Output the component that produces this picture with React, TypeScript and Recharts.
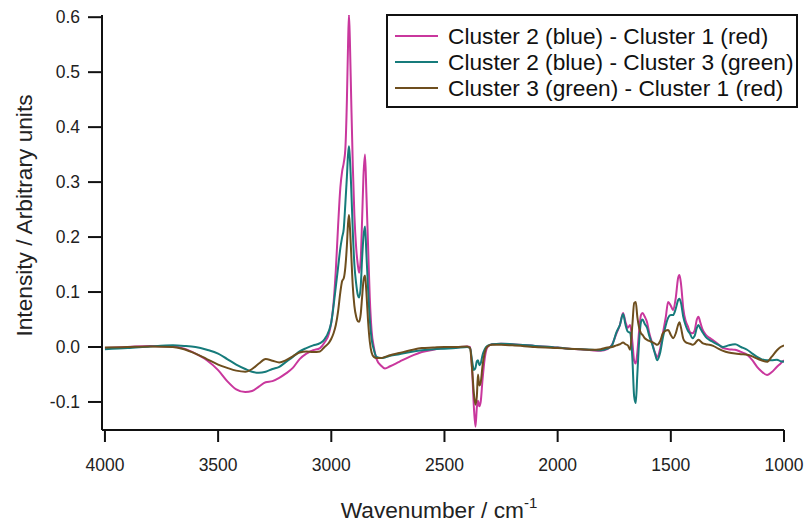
import React from 'react';
import { LineChart, Line, XAxis, YAxis, Label } from 'recharts';

document.body.style.margin = '0';

// wavenumber grid (cm-1)
const wavenumbers = [
  4000, 3900, 3800, 3700, 3650, 3600, 3550, 3500, 3460, 3420, 3380, 3350, 3320, 3290, 3260, 3230, 3200, 3170,
  3140, 3110, 3080, 3050, 3030, 3010, 3000, 2990, 2980, 2970, 2960, 2952, 2945, 2938, 2931, 2926, 2922, 2918,
  2912, 2905, 2898, 2890, 2883, 2877, 2870, 2864, 2858, 2851, 2845, 2838, 2830, 2822, 2812, 2800, 2780, 2763,
  2740, 2700, 2650, 2600, 2550, 2500, 2450, 2400, 2387, 2378, 2370, 2363, 2357, 2352, 2346, 2340, 2332, 2322,
  2310, 2290, 2250, 2200, 2100, 2000, 1950, 1900, 1850, 1810, 1780, 1760, 1740, 1725, 1711, 1700, 1690, 1680,
  1670, 1662, 1655, 1648, 1640, 1632, 1625, 1615, 1605, 1595, 1583, 1570, 1560, 1548, 1535, 1522, 1512, 1500,
  1490, 1478, 1468, 1462, 1455, 1445, 1435, 1425, 1415, 1405, 1395, 1385, 1378, 1370, 1360, 1345, 1330, 1313,
  1290, 1269, 1245, 1216, 1190, 1163, 1140, 1119, 1100, 1075, 1055, 1031, 1015, 1000,
];

// Cluster 2 (blue) - Cluster 1 (red)
const diff21 = [
  -0.002, 0.0, 0.002, 0.001, -0.003, -0.012, -0.024, -0.042, -0.062, -0.077, -0.082, -0.08, -0.072, -0.064, -0.062, -0.056, -0.048, -0.038,
  -0.022, -0.012, -0.006, -0.002, 0.008, 0.025, 0.045, 0.08, 0.14, 0.22, 0.29, 0.32, 0.335, 0.36, 0.45, 0.55, 0.605, 0.56,
  0.45, 0.33, 0.24, 0.18, 0.15, 0.135, 0.16, 0.23, 0.31, 0.35, 0.28, 0.19, 0.09, 0.03, 0.0, -0.022, -0.034, -0.039,
  -0.035, -0.027, -0.017, -0.009, -0.005, -0.002, -0.001, 0.001, 0.0, -0.04, -0.11, -0.145, -0.11, -0.098, -0.108, -0.1, -0.06, -0.02,
  0.0, 0.005, 0.006, 0.005, 0.002, -0.001, -0.003, -0.004, -0.006, -0.007, -0.004, 0.004, 0.025, 0.04, 0.062, 0.045, 0.035, 0.04,
  0.01, -0.025, -0.03, -0.01, 0.03, 0.058, 0.062, 0.055, 0.045, 0.025, 0.008, -0.01, -0.018, -0.005, 0.025, 0.055, 0.082, 0.075,
  0.067, 0.09, 0.125, 0.131, 0.115, 0.07, 0.048, 0.038, 0.027, 0.025, 0.03, 0.05, 0.055, 0.045, 0.032, 0.022, 0.017, 0.012,
  0.005, -0.002, -0.004, -0.005, -0.009, -0.014, -0.024, -0.036, -0.044, -0.051, -0.046, -0.036, -0.03, -0.024,
];

// Cluster 2 (blue) - Cluster 3 (green)
const diff23 = [
  -0.004, -0.002, 0.001, 0.003, 0.002, 0.0, -0.005, -0.012, -0.022, -0.032, -0.04, -0.045, -0.047, -0.045, -0.04, -0.036, -0.027, -0.018,
  -0.008, -0.002, 0.003, 0.007, 0.014, 0.03, 0.045, 0.075, 0.11, 0.145, 0.18, 0.2, 0.215, 0.26, 0.31, 0.35, 0.365, 0.345,
  0.29, 0.21, 0.15, 0.115, 0.095, 0.09, 0.11, 0.16, 0.2, 0.219, 0.17, 0.11, 0.05, 0.015, -0.005, -0.018, -0.02, -0.019,
  -0.016, -0.013, -0.009, -0.006, -0.004, -0.003, -0.002, 0.0, -0.002, -0.025, -0.042, -0.038, -0.026, -0.024, -0.033, -0.03, -0.015, -0.004,
  0.002, 0.005, 0.006, 0.005, 0.002, -0.001, -0.003, -0.004, -0.005, -0.006, -0.003, 0.003, 0.027, 0.04, 0.06, 0.04, 0.028, 0.026,
  -0.02, -0.09, -0.102, -0.05, 0.01, 0.045, 0.05, 0.042, 0.035, 0.02, 0.006, -0.012, -0.024, -0.012, 0.017, 0.04, 0.053, 0.058,
  0.058, 0.07, 0.085, 0.088, 0.08, 0.055, 0.04, 0.03, 0.024, 0.016, 0.02, 0.035, 0.04, 0.034, 0.027, 0.018, 0.013, 0.009,
  0.004, 0.0, 0.003, 0.005, 0.0, -0.005, -0.012, -0.018, -0.022, -0.024, -0.024, -0.023, -0.026, -0.027,
];

// Cluster 3 (green) - Cluster 1 (red)
const diff31 = [
  -0.001, 0.0, 0.001, 0.0, -0.004, -0.012, -0.022, -0.032, -0.038, -0.043, -0.045, -0.04, -0.03, -0.022, -0.025, -0.028, -0.024, -0.017,
  -0.01, -0.008, -0.009, -0.008, 0.0, 0.008, 0.015, 0.025, 0.04, 0.065, 0.1, 0.12, 0.125, 0.145, 0.185, 0.225, 0.24, 0.22,
  0.17, 0.11, 0.075, 0.055, 0.047, 0.046, 0.06, 0.09, 0.12, 0.13, 0.1, 0.05, 0.01, -0.01, -0.018, -0.02, -0.02, -0.018,
  -0.015, -0.011, -0.006, -0.002, -0.001, 0.0, 0.0, 0.001, -0.002, -0.04, -0.085, -0.105, -0.09, -0.05, -0.07, -0.065, -0.035, -0.01,
  0.001, 0.004, 0.004, 0.003, 0.0, -0.002, -0.003, -0.004, -0.005, -0.004, -0.001, 0.0, 0.003, 0.005, 0.008, 0.005, 0.003, -0.005,
  0.04, 0.08, 0.082, 0.055, 0.035, 0.025, 0.022, 0.016, 0.013, 0.011, 0.009, 0.006, 0.004, 0.01, 0.025, 0.03, 0.031, 0.022,
  0.016, 0.025, 0.04, 0.045, 0.035, 0.015, 0.009, 0.007, 0.006, 0.004, 0.006, 0.011, 0.013, 0.011, 0.007, 0.005, 0.004, 0.002,
  -0.003, -0.007, -0.01, -0.012, -0.013, -0.014, -0.017, -0.021, -0.024, -0.027, -0.018, -0.006, 0.0, 0.003,
];

const xTicks = [4000, 3500, 3000, 2500, 2000, 1500, 1000];
const yTicks = [-0.1, 0.0, 0.1, 0.2, 0.3, 0.4, 0.5, 0.6];

const series = [
  { key: 'd21', name: 'Cluster 2 (blue) - Cluster 1 (red)', color: '#c9379d', values: diff21 },
  { key: 'd23', name: 'Cluster 2 (blue) - Cluster 3 (green)', color: '#167b7b', values: diff23 },
  { key: 'd31', name: 'Cluster 3 (green) - Cluster 1 (red)', color: '#6e4e1e', values: diff31 },
];

const data = wavenumbers.map((w, i) => {
  const row: Record<string, number> = { w };
  series.forEach((s) => {
    row[s.key] = s.values[i];
  });
  return row;
});

const FONT = '"Liberation Sans", Arial, sans-serif';

// legend drawn as an overlay so it takes no room from the plot
const LegendBox = () => (
  <div
    style={{
      position: 'absolute',
      left: 386,
      top: 14,
      width: 412,
      border: '2px solid #111',
      background: '#fff',
      padding: '7px 0 5px 0',
      fontFamily: FONT,
      fontSize: 22.7,
      color: '#111',
      boxSizing: 'border-box',
    }}
  >
    {series.map((s) => (
      <div key={s.key} style={{ display: 'flex', alignItems: 'center', height: 26 }}>
        <span style={{ display: 'inline-block', width: 43, height: 2, background: s.color, marginLeft: 7, marginRight: 10 }} />
        <span style={{ whiteSpace: 'nowrap' }}>{s.name}</span>
      </div>
    ))}
  </div>
);

const YTitle = (props: any) => {
  const { viewBox } = props;
  const cy = viewBox.y + viewBox.height / 2 - 7;
  return (
    <text
      x={32}
      y={cy}
      transform={`rotate(-90, 32, ${cy})`}
      textAnchor="middle"
      fontFamily={FONT}
      fontSize={22.7}
      fill="#222"
    >
      Intensity / Arbitrary units
    </text>
  );
};

const XTitle = (props: any) => {
  const { viewBox } = props;
  const cx = viewBox.x + viewBox.width / 2;
  return (
    <text x={cx - 4} y={518} textAnchor="middle" fontFamily={FONT} fontSize={22.7} fill="#222">
      Wavenumber / cm
      <tspan fontSize={15} dy={-10}>-1</tspan>
    </text>
  );
};

export default function App() {
  return (
    <div style={{ position: 'relative', width: 804, height: 524 }}>
      <LineChart width={804} height={524} data={data} margin={{ top: 15, right: 20, left: 0, bottom: 0 }}>
        <XAxis
          dataKey="w"
          type="number"
          domain={[1000, 4013]}
          reversed
          allowDataOverflow
          ticks={xTicks}
          interval={0}
          height={94}
          tickSize={12}
          tickMargin={17}
          stroke="#111"
          strokeWidth={2}
          tick={{ fill: '#222', fontSize: 17.5, fontFamily: FONT }}
        >
          <Label content={XTitle} />
        </XAxis>
        <YAxis
          type="number"
          domain={[-0.151, 0.604]}
          allowDataOverflow
          ticks={yTicks}
          interval={0}
          width={102}
          tickSize={14}
          tickMargin={8}
          stroke="#111"
          strokeWidth={2}
          tickFormatter={(v: number) => v.toFixed(1)}
          tick={{ fill: '#222', fontSize: 17.5, fontFamily: FONT }}
        >
          <Label content={YTitle} />
        </YAxis>
        {series.map((s) => (
          <Line
            key={s.key}
            dataKey={s.key}
            name={s.name}
            type="monotone"
            stroke={s.color}
            strokeWidth={2}
            dot={false}
            isAnimationActive={false}
          />
        ))}
      </LineChart>
      <LegendBox />
    </div>
  );
}
